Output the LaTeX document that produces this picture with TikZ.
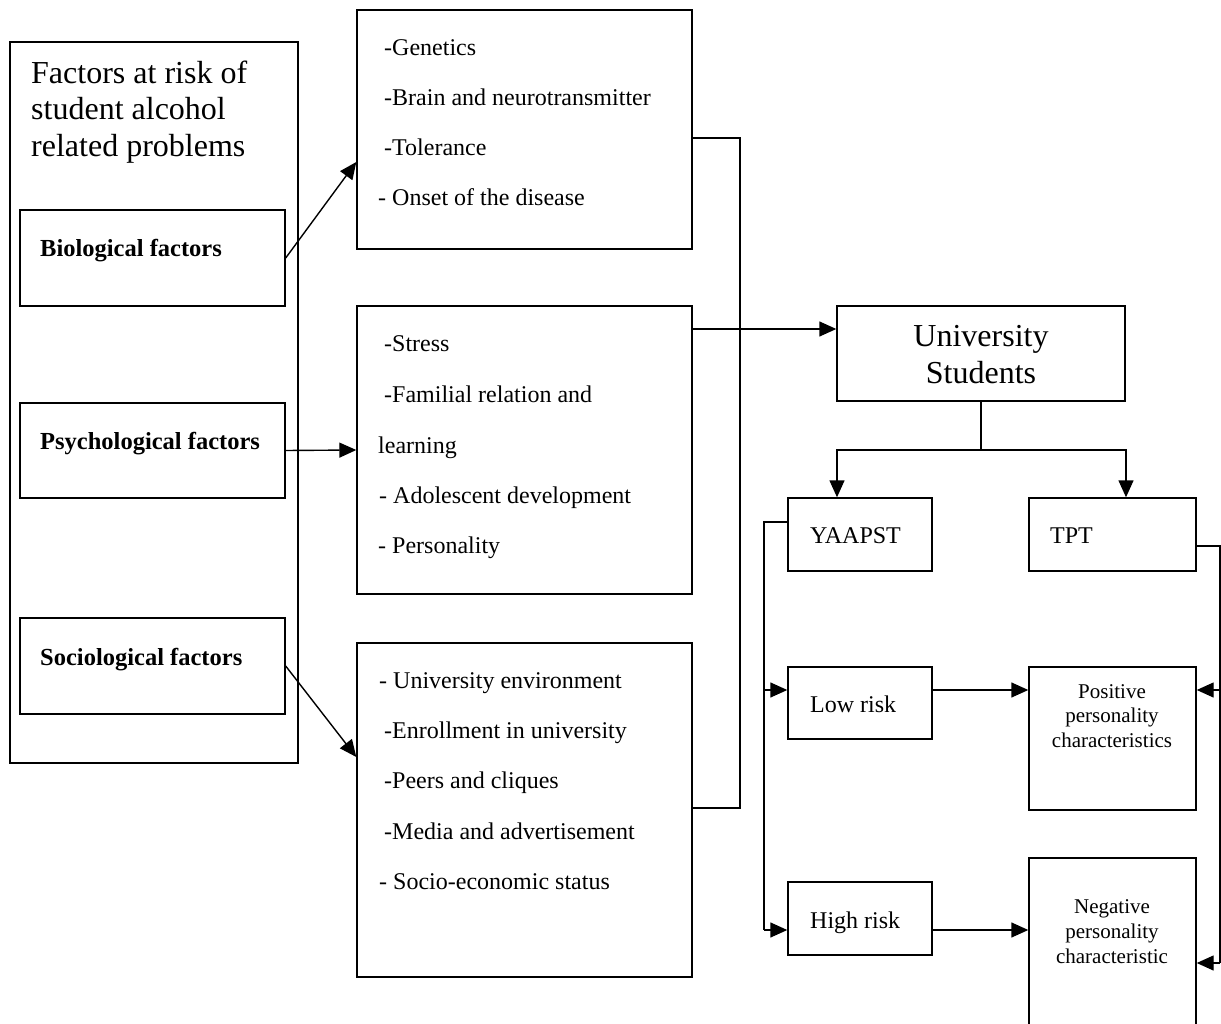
\documentclass[tikz,border=0pt]{standalone}
\usepackage{fontspec}
\setmainfont{Liberation Serif}
\usetikzlibrary{arrows.meta,calc}
\begin{document}
\begin{tikzpicture}[x=1pt,y=-1pt,
  box/.style={draw, line width=1.4pt, inner sep=0pt, fill=white},
  ln/.style={line width=1.4pt},
  arr/.style={line width=1.4pt, -{Triangle[length=17pt,width=15pt]}},
  txt/.style={anchor=base west, inner sep=0pt, font=\fontsize{24}{28}\selectfont},
  btxt/.style={anchor=base west, inner sep=0pt, font=\fontsize{24.5}{28}\selectfont\bfseries},
  big/.style={anchor=base west, inner sep=0pt, font=\fontsize{32}{37}\selectfont},
  small/.style={anchor=base, inner sep=0pt, font=\fontsize{21}{25}\selectfont}]
\useasboundingbox (0,0) rectangle (1221,1024);
\clip (0,0) rectangle (1221,1024);
\fill[white] (0,0) rectangle (1221,1024);

% left column
\node[box, minimum width=288pt, minimum height=721pt] (outer) at (154,402.5) {};
\node[big] (t1) at (31,84) {Factors at risk of};
\node[big] (t2) at (31,120) {student alcohol};
\node[big] (t3) at (31,157) {related problems};
\node[box, minimum width=265pt, minimum height=96pt] (bio) at (152.5,258) {};
\node[box, minimum width=265pt, minimum height=95pt] (psy) at (152.5,450.5) {};
\node[box, minimum width=265pt, minimum height=96pt] (soc) at (152.5,666) {};
\node[btxt] (bt) at (40,257) {Biological factors};
\node[btxt] (pt) at (40,449) {Psychological factors};
\node[btxt] (stx) at (40,665) {Sociological factors};

% middle column
\node[box, minimum width=335pt, minimum height=239pt] (gen) at (524.5,129.5) {};
\node[txt] (g1) at (384,56) {-Genetics};
\node[txt] (g2) at (384,106) {-Brain and neurotransmitter};
\node[txt] (g3) at (384,156) {-Tolerance};
\node[txt] (g4) at (378,206) {- Onset of the disease};

\node[box, minimum width=335pt, minimum height=288pt] (st) at (524.5,450) {};
\node[txt] (s1) at (384,352) {-Stress};
\node[txt] (s2) at (384,402) {-Familial relation and};
\node[txt] (s3) at (378,453) {learning};
\node[txt] (s4) at (379,503) {- Adolescent development};
\node[txt] (s5) at (378,553) {- Personality};

\node[box, minimum width=335pt, minimum height=334pt] (ue) at (524.5,810) {};
\node[txt] (u1) at (379,688) {- University environment};
\node[txt] (u2) at (384,738) {-Enrollment in university};
\node[txt] (u3) at (384,788) {-Peers and cliques};
\node[txt] (u4) at (384,839) {-Media and advertisement};
\node[txt] (u5) at (379,889) {- Socio-economic status};

% right part
\node[box, minimum width=288pt, minimum height=95pt] (us) at (981,353.5) {};
\node[anchor=base, inner sep=0pt, font=\fontsize{32}{37}\selectfont] (ust1) at (981,347) {University};
\node[anchor=base, inner sep=0pt, font=\fontsize{32}{37}\selectfont] (ust2) at (981,383) {Students};

\node[box, minimum width=144pt, minimum height=73pt] (ya) at (860,534.5) {};
\node[txt] (yat) at (810,543) {YAAPST};
\node[box, minimum width=167pt, minimum height=73pt] (tpt) at (1112.5,534.5) {};
\node[txt] (tptt) at (1050,543) {TPT};
\node[box, minimum width=144pt, minimum height=72pt] (lr) at (860,703) {};
\node[txt] (lrt) at (810,712) {Low risk};
\node[box, minimum width=144pt, minimum height=73pt] (hr) at (860,918.5) {};
\node[txt] (hrt) at (810,928) {High risk};
\node[box, minimum width=167pt, minimum height=143pt] (pos) at (1112.5,738.5) {};
\node[small] (p1) at (1112,698) {Positive};
\node[small] (p2) at (1112,722) {personality};
\node[small] (p3) at (1112,747) {characteristics};
\node[box, minimum width=167pt, minimum height=172pt] (neg) at (1112.5,944) {};
\node[small] (n1) at (1112,913) {Negative};
\node[small] (n2) at (1112,938) {personality};
\node[small] (n3) at (1112,963) {characteristic};

% coordinates
\coordinate (m1) at (740,138);
\coordinate (m2) at (740,808);
\coordinate (sx) at (740,329);
\coordinate (j) at (981,450);
\coordinate (vl1) at (764,522);
\coordinate (vl2) at (764,690);
\coordinate (vl3) at (764,930);
\coordinate (r1) at (1220,546);
\coordinate (r2) at (1220,690);
\coordinate (r3) at (1220,963);

% connectors left
\draw[arr] (bio.east) -- ([yshift=-32.5pt]gen.west);
\draw[arr] (psy.east) -- (st.west);
\draw[arr] (soc.east) -- ([yshift=53pt]ue.west);

% merge line
\draw[ln] (m1 -| gen.east) -- (m1) -- (m2) -- (m2 -| ue.east);
\draw[arr] (sx -| st.east) -- (sx -| us.west);

% branch
\draw[ln] (us.south) -- (j);
\draw[arr] (j) -| ([xshift=-23pt]ya.north);
\draw[arr] (j) -| ([xshift=13.5pt]tpt.north);

% YAAPST side
\draw[ln] (vl1 -| ya.west) -- (vl1) -- (vl3);
\draw[arr] (vl2) -- (vl2 -| lr.west);
\draw[arr] (vl3) -- (vl3 -| hr.west);
\draw[arr] (vl2 -| lr.east) -- (vl2 -| pos.west);
\draw[arr] (vl3 -| hr.east) -- (vl3 -| neg.west);

% TPT side
\draw[ln] (r1 -| tpt.east) -- (r1) -- (r3);
\draw[arr] (r2) -- (r2 -| pos.east);
\draw[arr] (r3) -- (r3 -| neg.east);
\end{tikzpicture}
\end{document}
